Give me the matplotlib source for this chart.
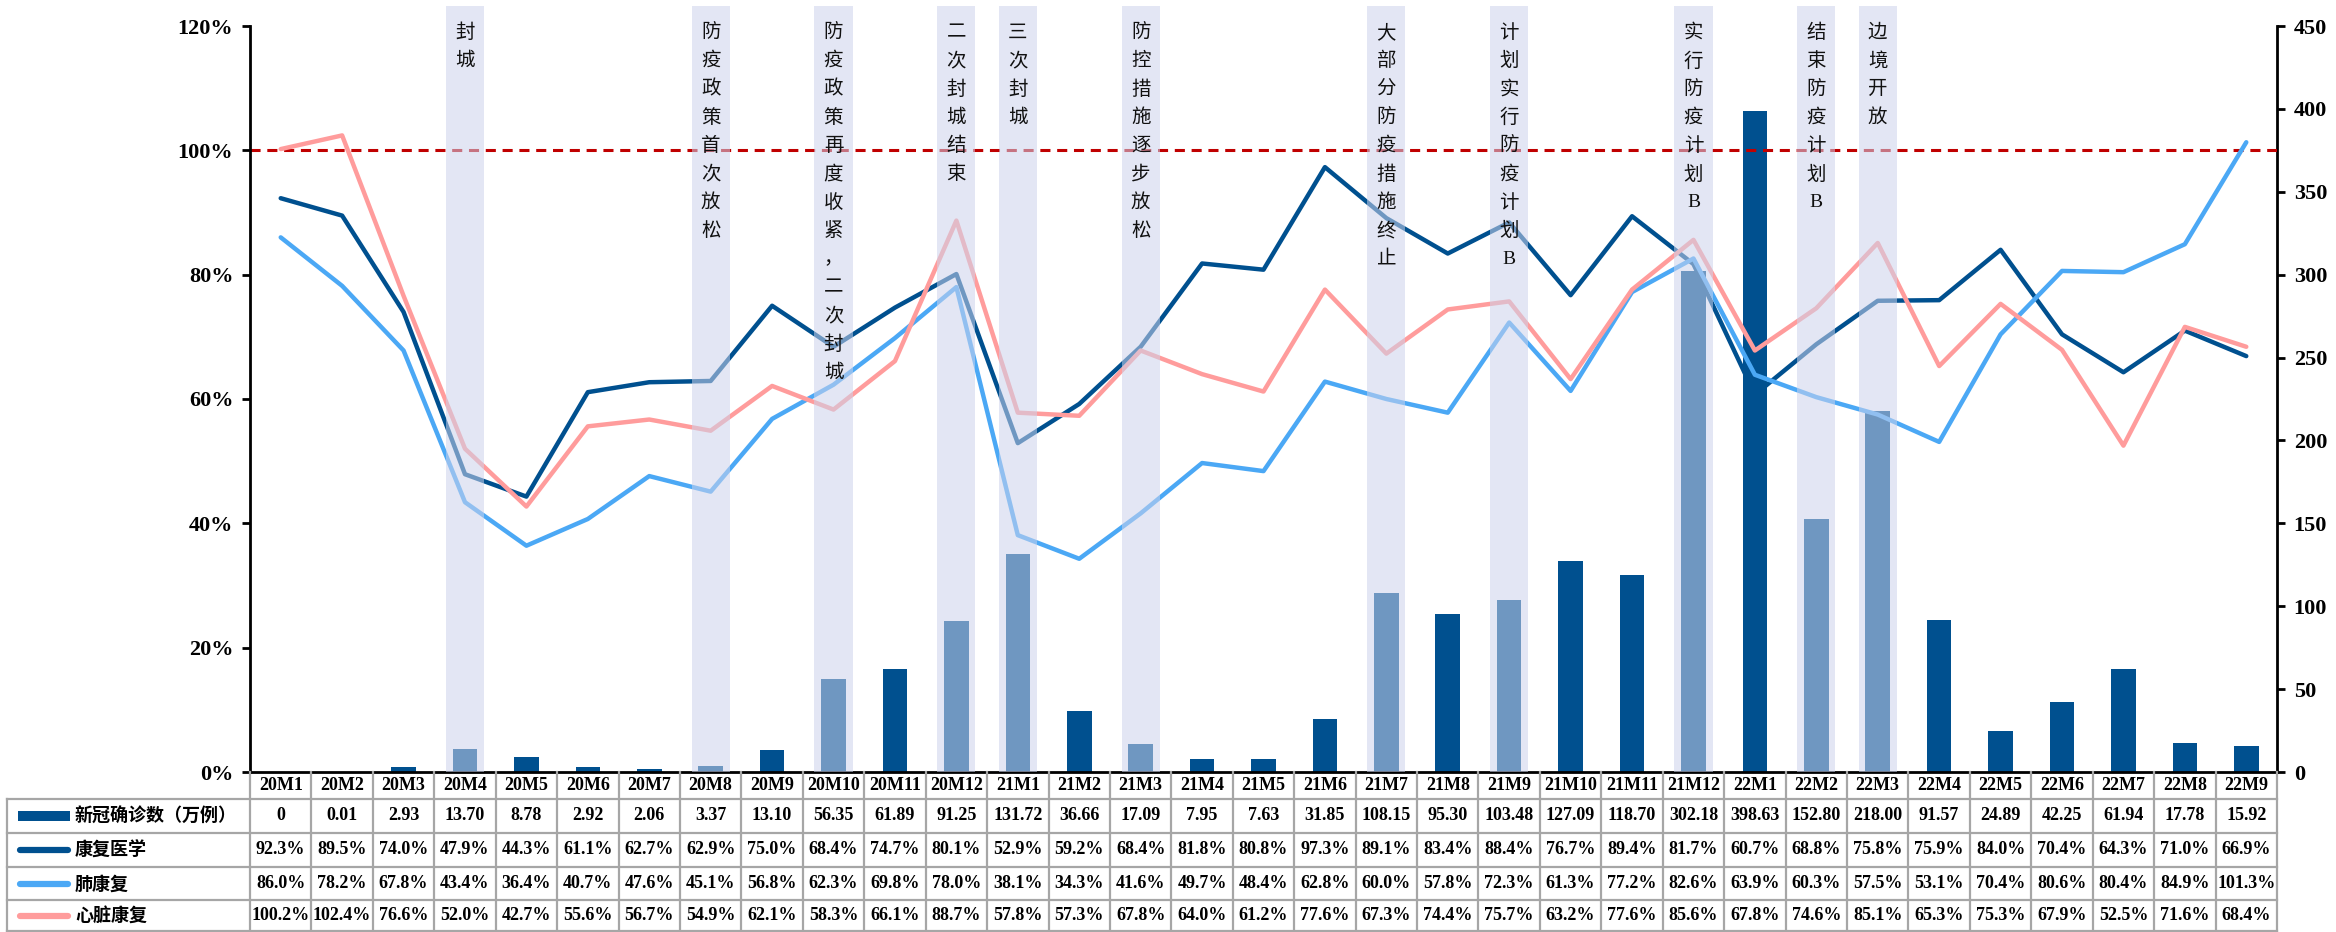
import matplotlib
matplotlib.use('Agg')
import matplotlib.pyplot as plt
from matplotlib.patches import Rectangle
from matplotlib.lines import Line2D
from matplotlib import transforms
import numpy as np

# ---- data ----
months = ['20M1', '20M2', '20M3', '20M4', '20M5', '20M6', '20M7', '20M8', '20M9', '20M10', '20M11', '20M12',
          '21M1', '21M2', '21M3', '21M4', '21M5', '21M6', '21M7', '21M8', '21M9', '21M10', '21M11', '21M12',
          '22M1', '22M2', '22M3', '22M4', '22M5', '22M6', '22M7', '22M8', '22M9']
cases = [0, 0.01, 2.93, 13.70, 8.78, 2.92, 2.06, 3.37, 13.10, 56.35, 61.89, 91.25,
         131.72, 36.66, 17.09, 7.95, 7.63, 31.85, 108.15, 95.30, 103.48, 127.09, 118.70, 302.18,
         398.63, 152.80, 218.00, 91.57, 24.89, 42.25, 61.94, 17.78, 15.92]
rehab = [92.3, 89.5, 74.0, 47.9, 44.3, 61.1, 62.7, 62.9, 75.0, 68.4, 74.7, 80.1,
         52.9, 59.2, 68.4, 81.8, 80.8, 97.3, 89.1, 83.4, 88.4, 76.7, 89.4, 81.7,
         60.7, 68.8, 75.8, 75.9, 84.0, 70.4, 64.3, 71.0, 66.9]
lung = [86.0, 78.2, 67.8, 43.4, 36.4, 40.7, 47.6, 45.1, 56.8, 62.3, 69.8, 78.0,
        38.1, 34.3, 41.6, 49.7, 48.4, 62.8, 60.0, 57.8, 72.3, 61.3, 77.2, 82.6,
        63.9, 60.3, 57.5, 53.1, 70.4, 80.6, 80.4, 84.9, 101.3]
heart = [100.2, 102.4, 76.6, 52.0, 42.7, 55.6, 56.7, 54.9, 62.1, 58.3, 66.1, 88.7,
         57.8, 57.3, 67.8, 64.0, 61.2, 77.6, 67.3, 74.4, 75.7, 63.2, 77.6, 85.6,
         67.8, 74.6, 85.1, 65.3, 75.3, 67.9, 52.5, 71.6, 68.4]
row_names = ['新冠确诊数（万例）', '康复医学', '肺康复', '心脏康复']

# policy events (month label -> note)
event_months = ['20M4', '20M8', '20M10', '20M12', '21M1', '21M3', '21M7', '21M9', '21M12', '22M2', '22M3']
event_notes = ['封城', '防疫政策首次放松', '防疫政策再度收紧，二次封城', '二次封城结束', '三次封城',
               '防控措施逐步放松', '大部分防疫措施终止', '计划实行防疫计划B', '实行防疫计划B',
               '结束防疫计划B', '边境开放']

C_BAR = '#00508F'
C_REHAB = '#00508F'
C_LUNG = '#4BA8F5'
C_HEART = '#FF9C9C'
C_BAND = '#CCD3EC'
C_GRID = '#A6A6A6'
SERIF = 'Liberation Serif'
CJK = 'Noto Sans CJK SC'

W, H = 2336, 932
fig = plt.figure(figsize=(W / 100, H / 100), dpi=100)


def fx(x):
    return x / W


def fy(y):
    return 1 - y / H


AX_L, AX_R, AX_T, AX_B = 250, 2277, 26, 772
ax = fig.add_axes([fx(AX_L), fy(AX_B), fx(AX_R) - fx(AX_L), fy(AX_T) - fy(AX_B)])
ax2 = ax.twinx()

x = np.arange(len(months))

# bars on right axis
ax2.bar(x, cases, width=0.4, color=C_BAR, zorder=2)
ax2.set_ylim(0, 450)
ax2.set_yticks(np.arange(0, 451, 50))

# lines on left axis
ax.plot(x, rehab, color=C_REHAB, lw=3.2, solid_capstyle='round', solid_joinstyle='round', zorder=3)
ax.plot(x, lung, color=C_LUNG, lw=3.2, solid_capstyle='round', solid_joinstyle='round', zorder=3)
ax.plot(x, heart, color=C_HEART, lw=3.2, solid_capstyle='round', solid_joinstyle='round', zorder=3)
ax.axhline(100, color='#C00000', lw=2.2, ls=(0, (3.3, 2.2)), zorder=2)

ax.set_xlim(-0.5, len(months) - 0.5)
ax.set_ylim(0, 120)
ax.set_yticks(np.arange(0, 121, 20))
ax.set_yticklabels([f'{v}%' for v in range(0, 121, 20)])
ax.set_xticks([])
ax2.set_xticks([])

ax.set_zorder(ax2.get_zorder() + 1)
ax.patch.set_visible(False)

for a in (ax, ax2):
    a.spines['top'].set_visible(False)
    for s in a.spines.values():
        s.set_linewidth(2)
ax.spines['right'].set_visible(False)
ax2.spines['left'].set_visible(False)
ax2.spines['bottom'].set_visible(False)

ax.tick_params(axis='y', direction='out', length=6, width=2, pad=6)
ax2.tick_params(axis='y', direction='out', length=6, width=2, pad=6)
for lab in ax.get_yticklabels() + ax2.get_yticklabels():
    lab.set_fontfamily(SERIF)
    lab.set_fontweight('bold')
    lab.set_fontsize(16)

# event bands and vertical notes
blend = transforms.blended_transform_factory(ax.transData, fig.transFigure)
char_gap = 28.3
for m, note in zip(event_months, event_notes):
    i = months.index(m)
    band = Rectangle((i - 0.31, fy(AX_B)), 0.62, fy(6) - fy(AX_B), transform=blend,
                     facecolor=C_BAND, alpha=0.55, edgecolor='none', clip_on=False, zorder=5)
    ax.add_patch(band)
    for k, ch in enumerate(note):
        ax.text(i, fy(33 + k * char_gap), ch, transform=blend, ha='center', va='center',
                fontsize=14, family=[SERIF, CJK], color='#111111', zorder=6, clip_on=False)

# ---- data table below the chart ----
col_w = (AX_R - AX_L) / len(months)
col_edges = AX_L + np.arange(len(months) + 1) * col_w
row_lines = [799, 833, 867, 900, 931]
row_centers = [816, 850, 884, 916]
TAB_L = 7


def hline(y, x0, x1):
    fig.add_artist(Line2D([fx(x0), fx(x1)], [fy(y), fy(y)], transform=fig.transFigure, color=C_GRID, lw=1.6))


def vline(xp, y0, y1):
    fig.add_artist(Line2D([fx(xp), fx(xp)], [fy(y0), fy(y1)], transform=fig.transFigure, color=C_GRID, lw=1.6))


for y in row_lines:
    hline(y, TAB_L, AX_R)
for xe in col_edges:
    vline(xe, AX_B, 931)
vline(TAB_L, 799, 931)

for i, m in enumerate(months):
    cx = (col_edges[i] + col_edges[i + 1]) / 2
    fig.text(fx(cx), fy(786), m, ha='center', va='center', fontsize=13, family=SERIF, weight='bold')
    vals = ['0' if cases[i] == 0 else f'{cases[i]:.2f}', f'{rehab[i]:.1f}%', f'{lung[i]:.1f}%', f'{heart[i]:.1f}%']
    for r, v in enumerate(vals):
        fig.text(fx(cx), fy(row_centers[r]), v, ha='center', va='center', fontsize=13, family=SERIF, weight='bold')

# legend keys in first column
fig.add_artist(Rectangle((fx(18), fy(821)), fx(70) - fx(18), fy(811) - fy(821), transform=fig.transFigure,
                         facecolor=C_BAR, edgecolor='none'))
for r, c in zip([1, 2, 3], [C_REHAB, C_LUNG, C_HEART]):
    fig.add_artist(Line2D([fx(20), fx(68)], [fy(row_centers[r]), fy(row_centers[r])], transform=fig.transFigure,
                          color=c, lw=4.5, solid_capstyle='round'))
for r, name in enumerate(row_names):
    fig.text(fx(75), fy(row_centers[r]), name, ha='left', va='center', fontsize=13, family=CJK, weight='bold')

fig.savefig('out.png', dpi=100)
